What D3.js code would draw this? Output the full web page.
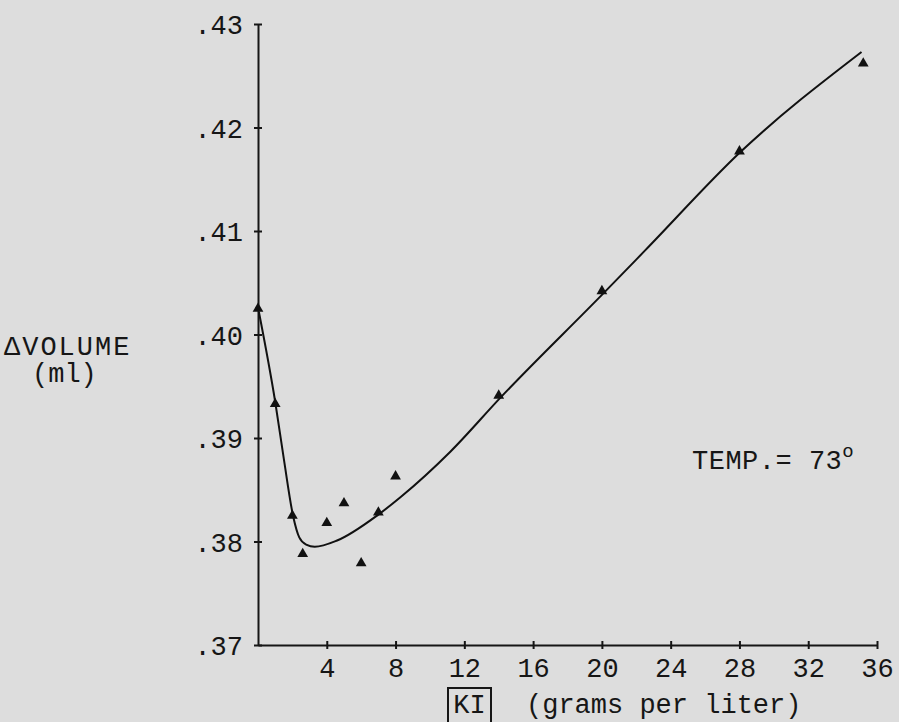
<!DOCTYPE html>
<html>
<head>
<meta charset="utf-8">
<script src="https://cdn.jsdelivr.net/npm/d3@7"></script>
<style>
  body { margin: 0; background: #dddddd; }
  svg { display: block; }
  text { font-family: "Liberation Mono", "DejaVu Sans Mono", monospace; fill: #161616; }
</style>
</head>
<body>
<svg id="chart" width="899" height="722"></svg>
<script>
// KI concentration (grams per liter) and measured volume change (ml)
const kiValues = [0, 1, 2, 2.6, 4, 5, 6, 7, 8, 14, 20, 28, 35.2];
const volumeValues = [0.4025, 0.3933, 0.3825, 0.3788, 0.3818, 0.3837, 0.3779, 0.3828, 0.3863, 0.3941, 0.4042, 0.4177, 0.4262];

// hand-drawn smoothing curve
const curveKi = [0.05, 1.0, 1.5, 2.05, 2.4, 2.8, 3.3, 4.6, 7.0, 8.3, 11.2, 14.1, 20.1, 22.5, 28.1, 35.1];
const curveVolume = [0.4022, 0.3935, 0.388, 0.3824, 0.3804, 0.3797, 0.3795, 0.3801, 0.3826, 0.3843, 0.3887, 0.3939, 0.404, 0.4081, 0.4177, 0.4273];

const xTicks = [4, 8, 12, 16, 20, 24, 28, 32, 36];
const yTicks = [0.37, 0.38, 0.39, 0.40, 0.41, 0.42, 0.43];

const svg = d3.select("#chart");

// Scales (pixel range matches the plot box of the scan)
const x = d3.scaleLinear().domain([0, 36]).range([258, 877]);
const y = d3.scaleLinear().domain([0.37, 0.43]).range([645, 24]);

// X axis
const xAxis = svg.append("g")
    .attr("transform", `translate(0,${y(0.37)})`)
    .call(d3.axisBottom(x).tickValues(xTicks).tickSize(4).tickPadding(9).tickSizeOuter(0));
xAxis.select(".domain").attr("stroke", "#161616").attr("stroke-width", 2);
xAxis.selectAll(".tick line").attr("y1", -4).attr("stroke", "#161616").attr("stroke-width", 2);
xAxis.selectAll(".tick text").attr("font-size", 27).attr("font-family", null).attr("fill", null);

// Y axis
const yAxis = svg.append("g")
    .attr("transform", `translate(${x(0)},0)`)
    .call(d3.axisLeft(y).tickValues(yTicks).tickSize(4).tickPadding(11).tickSizeOuter(0)
        .tickFormat(d => "." + Math.round(d * 100)));
yAxis.select(".domain").attr("stroke", "#161616").attr("stroke-width", 2);
yAxis.selectAll(".tick line").attr("x2", 4).attr("x1", -4).attr("stroke", "#161616").attr("stroke-width", 2);
yAxis.selectAll(".tick text").attr("font-size", 27).attr("font-family", null).attr("fill", null).attr("dy", "0.36em");

// Fitted curve
const line = d3.line()
    .x((d, i) => x(curveKi[i]))
    .y(d => y(d))
    .curve(d3.curveMonotoneX);

svg.append("path")
    .datum(curveVolume)
    .attr("d", line)
    .attr("fill", "none")
    .attr("stroke", "#111")
    .attr("stroke-width", 2);

// Data points (triangles)
svg.selectAll(".pt")
    .data(volumeValues)
    .enter()
    .append("path")
    .attr("class", "pt")
    .attr("transform", (d, i) => `translate(${x(kiValues[i])},${y(d)})`)
    .attr("d", d3.symbol(d3.symbolTriangle, 50))
    .attr("fill", "#111");

// Y axis label
svg.append("text")
    .attr("x", 4)
    .attr("y", 355)
    .attr("font-size", 27)
    .attr("letter-spacing", 2)
    .text("\u0394VOLUME");
svg.append("text")
    .attr("x", 32)
    .attr("y", 382)
    .attr("font-size", 27)
    .text("(ml)");

// Temperature note
const temp = svg.append("text")
    .attr("x", 692)
    .attr("y", 469)
    .attr("font-size", 27)
    .attr("letter-spacing", 0.5)
    .text("TEMP.= 73");
temp.append("tspan")
    .attr("dy", -12)
    .attr("font-size", 19)
    .text("o");

// X axis label with boxed [KI]
svg.append("rect")
    .attr("x", 448)
    .attr("y", 688)
    .attr("width", 43)
    .attr("height", 40)
    .attr("fill", "none")
    .attr("stroke", "#161616")
    .attr("stroke-width", 2);
svg.append("text")
    .attr("x", 469.5)
    .attr("y", 713)
    .attr("font-size", 27)
    .attr("text-anchor", "middle")
    .text("KI");
svg.append("text")
    .attr("x", 526)
    .attr("y", 713)
    .attr("font-size", 27)
    .text("(grams per liter)");
</script>
</body>
</html>
